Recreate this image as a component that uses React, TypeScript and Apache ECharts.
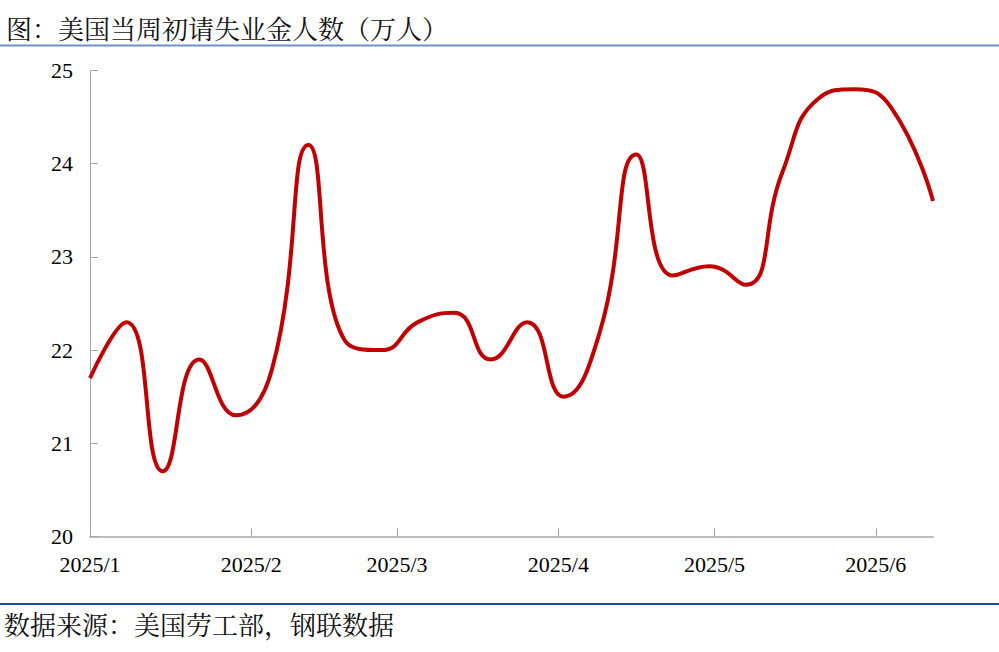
import React, { useEffect, useRef } from "react";
import * as echarts from "echarts";

const titleText = "图：美国当周初请失业金人数（万人）";
const sourceText = "数据来源：美国劳工部，钢联数据";

const weekDates = [
  "2025-01-01", "2025-01-08", "2025-01-15", "2025-01-22", "2025-01-29",
  "2025-02-05", "2025-02-12", "2025-02-19", "2025-02-26", "2025-03-05",
  "2025-03-12", "2025-03-19", "2025-03-26", "2025-04-02", "2025-04-09",
  "2025-04-16", "2025-04-23", "2025-04-30", "2025-05-07", "2025-05-14",
  "2025-05-21", "2025-05-28", "2025-06-04", "2025-06-12",
];

const claims = [
  21.7, 22.3, 20.7, 21.9, 21.3, 21.8, 24.2, 22.1, 22.0, 22.3,
  22.4, 21.9, 22.3, 21.5, 22.2, 24.1, 22.8, 22.9, 22.7, 23.9,
  24.7, 24.8, 24.6, 23.6,
];

const yMin = 20;
const yMax = 25;
const yStep = 1;

const SERIF = "Liberation Serif, Times New Roman, serif";
const CJK = "Noto Serif CJK SC, Noto Sans CJK SC, sans-serif";

export default function App() {
  const ref = useRef<HTMLDivElement>(null);

  useEffect(() => {
    if (!ref.current) return;
    const chart = echarts.init(ref.current, undefined, { renderer: "svg" });
    const seriesData = weekDates.map((d, i) => [d, claims[i]]);
    chart.setOption({
      animation: false,
      backgroundColor: "#ffffff",
      title: [
        {
          text: titleText,
          left: 6,
          top: 14,
          padding: 0,
          textStyle: {
            fontFamily: CJK,
            fontSize: 26,
            fontWeight: "normal",
            color: "#111111",
          },
        },
        {
          text: sourceText,
          left: 4,
          top: 610,
          padding: 0,
          textStyle: {
            fontFamily: CJK,
            fontSize: 26,
            fontWeight: "normal",
            color: "#111111",
          },
        },
      ],
      graphic: [
        {
          type: "line",
          shape: { x1: 0, y1: 45.5, x2: 999, y2: 45.5 },
          style: { stroke: "#7090c8", lineWidth: 2 },
        },
        {
          type: "line",
          shape: { x1: 0, y1: 604, x2: 999, y2: 604 },
          style: { stroke: "#1f4e9e", lineWidth: 2 },
        },
      ],
      grid: { left: 90, right: 66, top: 70.5, bottom: 115.5 },
      xAxis: {
        type: "time",
        min: weekDates[0],
        max: weekDates[weekDates.length - 1],
        splitNumber: 6,
        axisLine: { show: true, lineStyle: { color: "#bdbdbd", width: 2 } },
        axisTick: { show: true, inside: true, length: 8, lineStyle: { color: "#a0a0a0" } },
        minorTick: { show: false },
        splitLine: { show: false },
        axisLabel: {
          margin: 17,
          fontFamily: SERIF,
          fontSize: 22,
          color: "#000000",
          formatter: (v: number) => {
            const d = new Date(v);
            return d.getFullYear() + "/" + (d.getMonth() + 1);
          },
        },
      },
      yAxis: {
        type: "value",
        min: yMin,
        max: yMax,
        interval: yStep,
        axisLine: { show: true, lineStyle: { color: "#a6a6a6", width: 1 } },
        axisTick: { show: true, inside: true, length: 8, lineStyle: { color: "#a6a6a6" } },
        splitLine: { show: false },
        axisLabel: {
          margin: 17,
          fontFamily: SERIF,
          fontSize: 22,
          color: "#000000",
        },
      },
      series: [
        {
          type: "line",
          data: seriesData,
          smooth: 0.5,
          symbol: "none",
          lineStyle: { color: "#c00000", width: 4 },
        },
      ],
    });
    return () => chart.dispose();
  }, []);

  return (
    <div
      ref={ref}
      style={{ position: "fixed", left: 0, top: 0, width: 999, height: 652 }}
    />
  );
}
